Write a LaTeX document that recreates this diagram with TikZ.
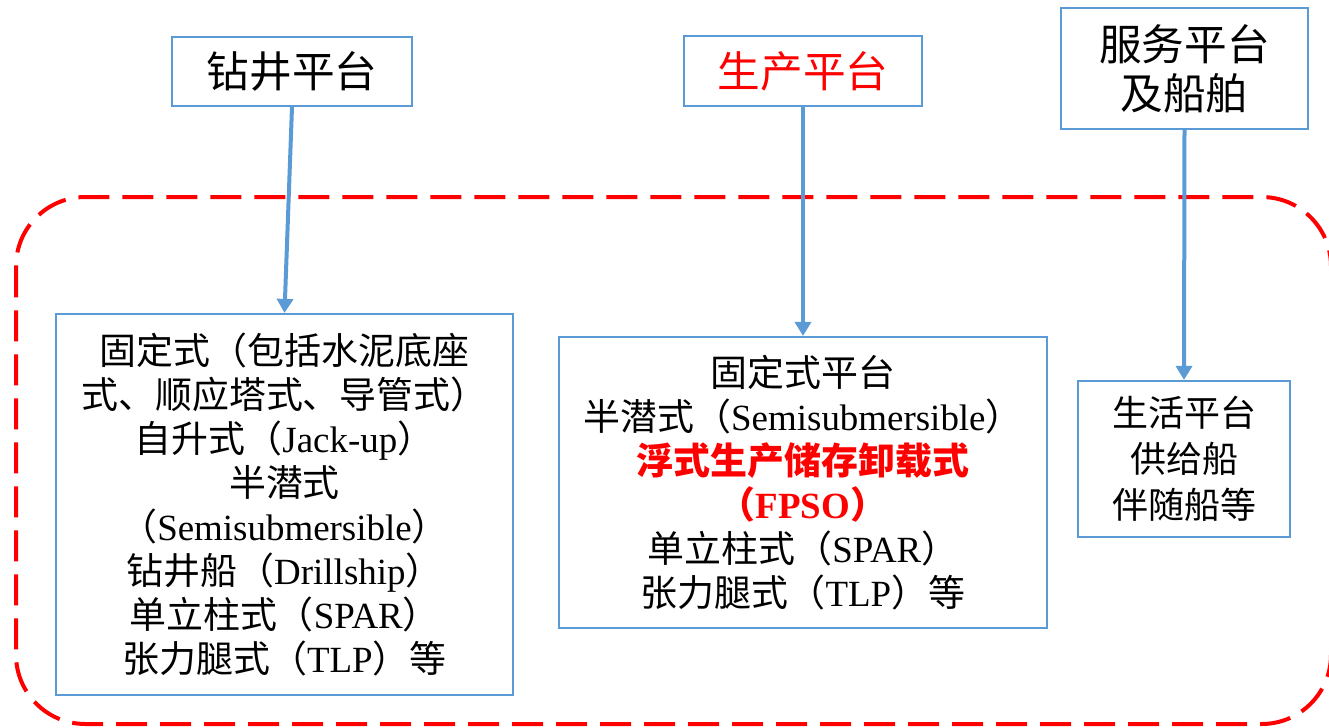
\documentclass[tikz,border=0pt]{standalone}
\usepackage{fontspec}
\setmainfont{Liberation Serif}
\newfontfamily\cjk{Noto Sans CJK SC}
\usetikzlibrary{arrows.meta}
\definecolor{boxblue}{HTML}{5B9BD5}
\definecolor{hired}{HTML}{FF0000}
\newcommand\zh[1]{{\cjk #1}}
\tikzset{
  box/.style={draw=boxblue, line width=1.6pt, inner sep=0pt, align=center},
  link/.style={draw=boxblue, line width=3pt, -{Triangle[length=10.5pt,width=12pt]}},
  group/.style={draw=hired, line width=3pt, dash pattern=on 23.25pt off 9.75pt, rounded corners=52pt},
  big/.style={font=\fontsize{32}{37}\selectfont},
  mid/.style={font=\fontsize{27.7}{33}\selectfont},
  sml/.style={font=\fontsize{27}{34.5}\selectfont}
}
\begin{document}
\begin{tikzpicture}[x=0.75pt,y=-0.75pt]
\useasboundingbox (0,0) rectangle (1329,728);
\begin{scope}
\clip (0,0) rectangle (1329,728);
\draw[group] (16,197) rectangle (1331,724);
\end{scope}
% top boxes
\node[box,big,minimum width=180pt,minimum height=51.75pt] (a) at (292,71.5) {\zh{钻井平台}};
\node[box,big,minimum width=178.5pt,minimum height=52.5pt,text=hired] (b) at (803,71) {\zh{生产平台}};
\node[box,big,minimum width=185.25pt,minimum height=90.75pt] (c) at (1184.5,68.5) {\zh{服务平台}\\\zh{及船舶}};
% lower boxes
\node[box,mid,minimum width=342.75pt,minimum height=285.75pt] (d) at (284.5,504.5) {%
\zh{固定式（包括水泥底座}\\
\zh{式、顺应塔式、导管式）}\\
\zh{自升式（}Jack-up\zh{）}\\
\zh{半潜式}\\
\zh{（}Semisubmersible\zh{）}\\
\zh{钻井船（}Drillship\zh{）}\\
\zh{单立柱式（}SPAR\zh{）}\\
\zh{张力腿式（}TLP\zh{）等}};
\node[box,mid,minimum width=366pt,minimum height=218.25pt] (e) at (803,482.5) {%
\zh{固定式平台}\\
\zh{半潜式（}Semisubmersible\zh{）}\\
{\color{hired}\bfseries\zh{浮式生产储存卸载式}}\\
{\color{hired}\bfseries\zh{（}FPSO\zh{）}}\\
\zh{单立柱式（}SPAR\zh{）}\\
\zh{张力腿式（}TLP\zh{）等}};
\node[box,sml,minimum width=159pt,minimum height=117pt] (f) at (1184,459) {%
\zh{生活平台}\\\zh{供给船}\\\zh{伴随船等}};
% connectors
\draw[link] (a.south) -- (d.north);
\draw[link] (b.south) -- (e.north);
\draw[link] (c.south) -- (f.north);
\end{tikzpicture}
\end{document}
